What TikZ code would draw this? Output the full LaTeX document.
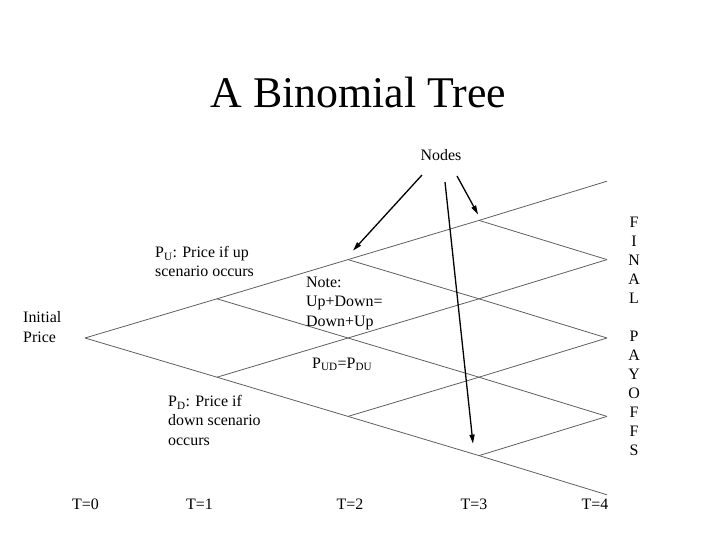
\documentclass[tikz,border=0pt]{standalone}
\usepackage{fontspec}
\IfFontExistsTF{LiberationSerif-Regular.ttf}
  {\setmainfont{LiberationSerif-Regular.ttf}[BoldFont=LiberationSerif-Bold.ttf]
   \newfontfamily\tnr{LiberationSerif-Regular.ttf}}
  {\setmainfont{Liberation Serif}\newfontfamily\tnr{Liberation Serif}}
\usetikzlibrary{arrows.meta,calc}
\definecolor{treegray}{RGB}{95,95,95}
\begin{document}
\begin{tikzpicture}[x=1bp,y=-1bp,
  branch/.style={draw=treegray, line width=0.8bp},
  pointer/.style={draw=black, line width=1.3bp, -{Triangle[length=9bp,width=5bp]}},
  lbl/.style={font=\tnr\fontsize{16}{19.2}\selectfont, inner sep=0pt, align=left, anchor=base west},
  tlbl/.style={font=\tnr\fontsize{16}{19.2}\selectfont, inner sep=0pt, anchor=base}]
\useasboundingbox (0,0) rectangle (720,540);
% lattice points
\foreach \t in {0,...,4} {
  \foreach \k in {0,...,\t} {
    \pgfmathsetmacro\xx{{85,217,348,479,607}[\t]}
    \coordinate (n\t\k) at (\xx, {338-39.2*(2*\k-\t)});
  }
}
% branches
\foreach \t in {0,...,3} {
  \foreach \k in {0,...,\t} {
    \pgfmathtruncatemacro\tn{\t+1}
    \pgfmathtruncatemacro\kn{\k+1}
    \draw[branch] (n\t\k) -- (n\tn\kn);
    \draw[branch] (n\t\k) -- (n\tn\k);
  }
}
% title
\node[font=\tnr\fontsize{44}{50}\selectfont, inner sep=0pt, anchor=base] (title) at (358.5,108) {A Binomial Tree};
% labels (multi-line nodes: base = last line baseline)
\node[tlbl] (nodes) at (441,161) {Nodes};
\node[lbl] (pu) at (155,277) {P\textsubscript{U}: Price if up\\scenario occurs};
\node[lbl] (init) at (23,342) {Initial\\Price};
\node[lbl] (note) at (306,326) {Note:\\Up+Down=\\Down+Up};
\node[lbl] (pud) at (312,368) {P\textsubscript{UD}=P\textsubscript{DU}};
\node[lbl] (pd) at (168,445) {P\textsubscript{D}: Price if\\down scenario\\occurs};
\node[font=\tnr\fontsize{16}{19}\selectfont, inner sep=0pt, align=center, anchor=base] (final) at (634,455)
  {F\\I\\N\\A\\L\\[19bp]P\\A\\Y\\O\\F\\F\\S};
\foreach \i/\xp in {0/85.5,1/199.5,2/350,3/474,4/595} {
  \node[tlbl] (t\i) at (\xp,509) {T=\i};
}
% arrows
\coordinate (s1) at (422,175);
\coordinate (s2) at (445,182);
\coordinate (s3) at (457,176);
\coordinate (e1) at ($(n22)+(5,-9)$);
\coordinate (e2) at ($(n30)+(-6,-12)$);
\coordinate (e3) at ($(n33)+(-1,-6)$);
\draw[pointer] (s1) -- (e1);
\draw[pointer] (s2) -- (e2);
\draw[pointer] (s3) -- (e3);
\end{tikzpicture}
\end{document}
